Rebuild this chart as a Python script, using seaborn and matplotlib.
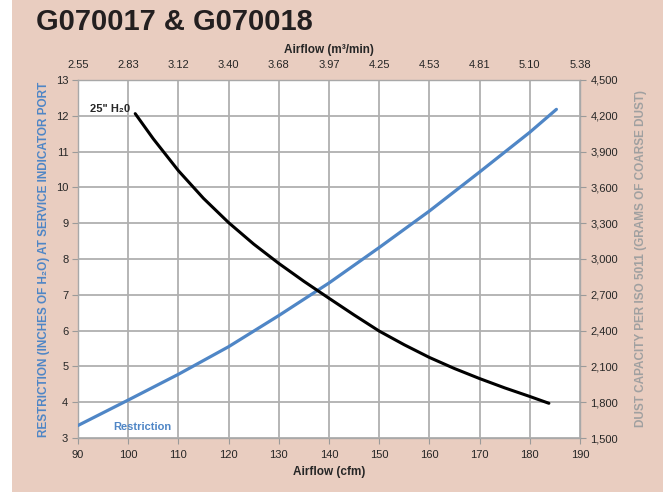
import pandas as pd
import seaborn as sns
import matplotlib.pyplot as plt
from matplotlib.patches import Rectangle

# Restriction curve (left axis, inches H2O) vs airflow (cfm)
restr_cfm = [90, 100, 110, 120, 130, 140, 150, 160, 170, 180, 185.3]
restr_h2o = [3.35, 4.06, 4.78, 5.55, 6.42, 7.33, 8.32, 9.34, 10.43, 11.54, 12.18]

# Dust capacity curve (right axis, grams) vs airflow (cfm)
dust_cfm = [101.4, 105, 110, 115, 120, 125, 130, 135, 140, 145, 150, 155, 160, 165, 170, 175, 180, 183.8]
dust_g = [4218, 4007, 3740, 3508, 3305, 3125, 2963, 2813, 2671, 2531, 2396, 2281, 2175, 2082,
          1998, 1920, 1848, 1791]

cfm_ticks = [90, 100, 110, 120, 130, 140, 150, 160, 170, 180, 190]
m3_labels = ["2.55", "2.83", "3.12", "3.40", "3.68", "3.97", "4.25", "4.53", "4.81", "5.10", "5.38"]
left_ticks = list(range(3, 14))
right_ticks = list(range(1500, 4501, 300))

blue = "#4f86c6"
peach = "#e9cdc0"
gray = "#9a9a9a"

sns.set_style("white")
plt.rcParams['font.family'] = ['Liberation Sans', 'DejaVu Sans']
narrow = ['Liberation Sans Narrow', 'Liberation Sans', 'DejaVu Sans']

fig = plt.figure(figsize=(6.72, 4.92), dpi=100, facecolor="white")
fig.patches.append(Rectangle((12 / 672, 0), (663 - 12) / 672, 1, transform=fig.transFigure,
                             facecolor=peach, edgecolor="none", zorder=-10))

ax = fig.add_axes([78 / 672, 1 - 438 / 492, (580 - 78) / 672, (438 - 80) / 492])
ax.set_facecolor("white")

restr = pd.DataFrame({"cfm": restr_cfm, "h2o": restr_h2o})
sns.lineplot(data=restr, x="cfm", y="h2o", ax=ax, color=blue, linewidth=2.3, zorder=3)

ax.set_xlim(90, 190)
ax.set_ylim(3, 13)
ax.set_xticks(cfm_ticks)
ax.set_yticks(left_ticks)
ax.grid(True, color="#b0b0b0", linewidth=1.3)
ax.tick_params(axis="both", labelsize=8, length=4, color=gray, direction="out", width=0.8, pad=3)
ax.tick_params(axis="x", pad=5)
for s in ax.spines.values():
    s.set_color("#a8a8a8")
    s.set_linewidth(1.0)
ax.set_xlabel("Airflow (cfm)", fontsize=8.5, fontweight="bold", labelpad=4)
ax.set_ylabel("RESTRICTION (INCHES OF H₂O) AT SERVICE INDICATOR PORT",
              fontsize=8.5, fontweight="bold", color=blue, labelpad=4, family=narrow)

# right axis: dust capacity
ax2 = ax.twinx()
dust = pd.DataFrame({"cfm": dust_cfm, "grams": dust_g})
sns.lineplot(data=dust, x="cfm", y="grams", ax=ax2, color="black", linewidth=2.2, zorder=3)
ax2.set_ylim(1500, 4500)
ax2.set_yticks(right_ticks)
ax2.set_yticklabels([f"{v:,}" for v in right_ticks])
ax2.tick_params(axis="y", labelsize=8, length=4, color=gray, width=0.8)
ax2.set_ylabel("DUST CAPACITY PER ISO 5011 (GRAMS OF COARSE DUST)",
               fontsize=8.5, fontweight="bold", color="#a0a0a0", labelpad=12, family=narrow)
for s in ax2.spines.values():
    s.set_visible(False)

# top axis: airflow in m3/min
ax3 = ax.twiny()
ax3.set_xlim(90, 190)
ax3.set_xticks(cfm_ticks)
ax3.set_xticklabels(m3_labels)
ax3.tick_params(axis="x", labelsize=8, length=0, pad=7.5)
ax3.set_xlabel("Airflow (m³/min)", fontsize=8.5, fontweight="bold", labelpad=4.5)
for s in ax3.spines.values():
    s.set_visible(False)

ax.text(100.4, 12.2, "25\" H₂0", fontsize=8, fontweight="bold", ha="right", va="center")
ax.text(97, 3.3, "Restriction", fontsize=8, fontweight="bold", color=blue, ha="left", va="center")

fig.text(36 / 672, 1 - 21.5 / 492, "G070017 & G070018", fontsize=21, fontweight="bold",
         color="#231f20", ha="left", va="center", family=narrow)

fig.savefig("out.png", dpi=100, facecolor=fig.get_facecolor())
